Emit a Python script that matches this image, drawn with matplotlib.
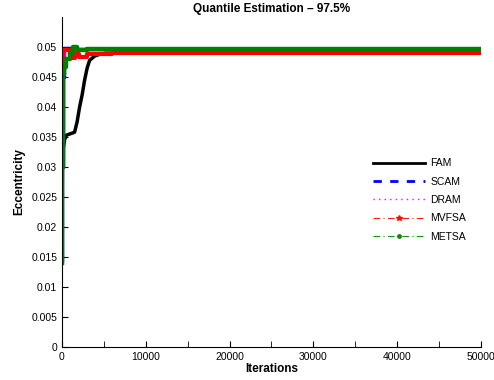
import matplotlib.pyplot as plt
from matplotlib.lines import Line2D

plt.rcParams['font.family'] = ['Liberation Sans', 'DejaVu Sans']

# breakpoints (iteration, eccentricity)
fam_it = [0, 300, 500, 900, 1500, 1800, 2100, 2400, 2700, 3000, 3300, 3900, 4500, 6000, 15000, 50000]
fam = [0.0316, 0.0345, 0.0353, 0.0355, 0.0358, 0.0375, 0.0400, 0.0420, 0.0445, 0.0465, 0.0478, 0.0485,
       0.0488, 0.0490, 0.0491, 0.0492]

scam_it = [0, 30, 80, 200, 600, 1500, 5000, 50000]
scam = [0.0145, 0.0300, 0.0450, 0.0498, 0.0499, 0.0497, 0.0496, 0.0496]

dram_it = [0, 30, 80, 200, 600, 1500, 5000, 50000]
dram = [0.0200, 0.0350, 0.0470, 0.0496, 0.0497, 0.0496, 0.0495, 0.0495]

mvfsa_it = [0, 30, 80, 200, 900, 1200, 1600, 2000, 3000, 6000, 50000]
mvfsa = [0.0280, 0.0400, 0.0494, 0.0495, 0.0486, 0.0482, 0.0488, 0.0484, 0.0489, 0.0490, 0.0491]

metsa_it = [0, 30, 80, 200, 500, 900, 1300, 1800, 3000, 8000, 50000]
metsa = [0.0140, 0.0300, 0.0455, 0.0466, 0.0480, 0.0490, 0.0500, 0.0495, 0.0496, 0.0497, 0.0497]

names = ['FAM', 'SCAM', 'DRAM', 'MVFSA', 'METSA']

fig = plt.figure(figsize=(4.94, 3.8), dpi=100)
ax = fig.add_axes([0.1255, 0.087, 0.848, 0.868])

ax.plot(fam_it, fam, color='black', lw=2.5)
ax.plot(scam_it, scam, color='blue', lw=2.5, drawstyle='steps-post')
ax.plot(dram_it, dram, color='magenta', lw=2.0, drawstyle='steps-post')
ax.plot(mvfsa_it, mvfsa, color='red', lw=3.0, drawstyle='steps-post')
ax.plot(metsa_it, metsa, color='green', lw=3.2, drawstyle='steps-post')

dashdot = (0, (6, 3, 1, 3))
handles = [
    Line2D([], [], color='black', lw=2),
    Line2D([], [], color='blue', lw=2, ls=(0, (3, 3))),
    Line2D([], [], color='magenta', lw=1, ls=(0, (1, 3))),
    Line2D([], [], color='red', lw=0.8, ls=dashdot, marker='*', markersize=4, alpha=0.9),
    Line2D([], [], color='green', lw=0.8, ls=dashdot, marker='o', markersize=2.5, alpha=0.9),
]
leg = ax.legend(handles, names, loc='upper left', bbox_to_anchor=(0.72, 0.6),
                frameon=False, fontsize=7.5, handlelength=5, labelspacing=0.8,
                handletextpad=0.5, markerscale=1, numpoints=1)

ax.set_xlim(0, 50000)
ax.set_ylim(0, 0.055)
ax.set_xticks(range(0, 50001, 10000))
ax.set_xticks(range(5000, 50000, 10000), minor=True)
ax.set_yticks([i * 0.005 for i in range(11)])
ax.set_yticklabels(['0'] + ['%g' % (i * 0.005) for i in range(1, 11)])
ax.tick_params(direction='in', labelsize=7.5, length=4, which='both')
ax.spines['top'].set_visible(False)
ax.spines['right'].set_visible(False)

ax.set_xlabel('Iterations', fontsize=8.5, fontweight='bold', labelpad=1)
ax.set_ylabel('Eccentricity', fontsize=8.5, fontweight='bold', labelpad=4)
ax.set_title('Quantile Estimation \u2013 97.5%', fontsize=8.5, fontweight='bold', pad=4)

fig.savefig('out.png', dpi=100)
